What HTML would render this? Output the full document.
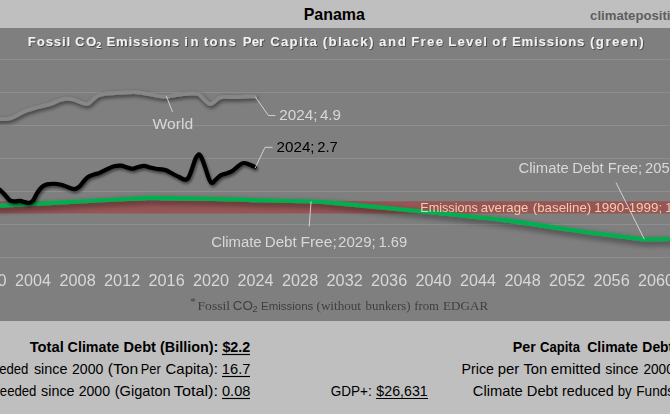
<!DOCTYPE html>
<html><head><meta charset="utf-8"><title>Panama</title>
<style>
html,body{margin:0;padding:0;background:#bfbfbf;overflow:hidden}
body{width:670px;height:414px;font-family:"Liberation Sans",sans-serif}
svg{display:block;font-family:"Liberation Sans",sans-serif}
text{white-space:pre}
</style></head><body>
<svg width="670" height="414" viewBox="0 0 670 414">
<defs>
<filter id="shK" x="-5%" y="-30%" width="110%" height="170%"><feGaussianBlur in="SourceAlpha" stdDeviation="1.6"/><feOffset dx="0.8" dy="1.6"/><feComponentTransfer><feFuncA type="linear" slope="0.55"/></feComponentTransfer><feMerge><feMergeNode/><feMergeNode in="SourceGraphic"/></feMerge></filter>
<filter id="shG" x="-5%" y="-40%" width="110%" height="200%"><feGaussianBlur in="SourceAlpha" stdDeviation="3"/><feOffset dx="0.8" dy="3.2"/><feComponentTransfer><feFuncA type="linear" slope="0.58"/></feComponentTransfer><feMerge><feMergeNode/><feMergeNode in="SourceGraphic"/></feMerge></filter>
<filter id="shW" x="-5%" y="-40%" width="110%" height="200%"><feGaussianBlur in="SourceAlpha" stdDeviation="1.9"/><feOffset dx="0.8" dy="2.2"/><feComponentTransfer><feFuncA type="linear" slope="0.62"/></feComponentTransfer><feMerge><feMergeNode/><feMergeNode in="SourceGraphic"/></feMerge></filter>
<filter id="shT" x="-5%" y="-30%" width="110%" height="170%"><feGaussianBlur in="SourceAlpha" stdDeviation="0.7"/><feOffset dx="0.5" dy="0.9"/><feComponentTransfer><feFuncA type="linear" slope="0.4"/></feComponentTransfer><feMerge><feMergeNode/><feMergeNode in="SourceGraphic"/></feMerge></filter>
</defs>
<rect x="0" y="0" width="670" height="414" fill="#bfbfbf"/>
<rect x="0" y="28" width="670" height="293.00" fill="#7f7f7f"/>
<line x1="0" x2="670" y1="59.50" y2="59.50" stroke="#8e8e8e" stroke-width="1"/>
<line x1="0" x2="670" y1="92.50" y2="92.50" stroke="#8e8e8e" stroke-width="1"/>
<line x1="0" x2="670" y1="125.50" y2="125.50" stroke="#8e8e8e" stroke-width="1"/>
<line x1="0" x2="670" y1="158.50" y2="158.50" stroke="#8e8e8e" stroke-width="1"/>
<line x1="0" x2="670" y1="191.50" y2="191.50" stroke="#8e8e8e" stroke-width="1"/>
<line x1="0" x2="670" y1="224.50" y2="224.50" stroke="#8e8e8e" stroke-width="1"/>
<line x1="0" x2="670" y1="257.50" y2="257.50" stroke="#8e8e8e" stroke-width="1"/>
<rect x="0" y="201.2" width="670" height="12.3" fill="#975656"/>
<path d="M-5.00,119.00C-4.17,119.00 -1.83,119.00 0.00,119.00C1.83,119.00 3.92,119.25 6.00,119.00C8.08,118.75 9.33,118.79 12.50,117.50C15.67,116.21 20.83,112.96 25.00,111.25C29.17,109.54 33.33,108.44 37.50,107.25C41.67,106.06 46.25,105.31 50.00,104.10C53.75,102.89 57.00,100.89 60.00,100.00C63.00,99.11 65.50,98.75 68.00,98.75C70.50,98.75 72.33,99.21 75.00,100.00C77.67,100.79 81.83,102.88 84.00,103.50C86.17,104.12 86.67,104.23 88.00,103.75C89.33,103.27 90.33,101.96 92.00,100.60C93.67,99.24 95.83,96.74 98.00,95.60C100.17,94.46 102.17,94.17 105.00,93.75C107.83,93.33 111.67,93.31 115.00,93.10C118.33,92.89 121.83,92.67 125.00,92.50C128.17,92.33 131.00,92.00 134.00,92.10C137.00,92.20 139.83,92.62 143.00,93.10C146.17,93.58 149.83,94.43 153.00,95.00C156.17,95.57 159.50,96.25 162.00,96.50C164.50,96.75 165.33,96.79 168.00,96.50C170.67,96.21 174.67,95.21 178.00,94.75C181.33,94.29 184.83,93.92 188.00,93.75C191.17,93.58 194.83,93.33 197.00,93.75C199.17,94.17 199.50,95.00 201.00,96.25C202.50,97.50 204.42,99.92 206.00,101.25C207.58,102.58 209.00,104.20 210.50,104.20C212.00,104.20 213.42,102.37 215.00,101.25C216.58,100.13 218.17,98.22 220.00,97.50C221.83,96.78 223.33,96.97 226.00,96.90C228.67,96.83 231.67,97.18 236.00,97.10C240.33,97.02 248.83,96.48 252.00,96.40C255.17,96.32 254.50,96.57 255.00,96.60" fill="none" stroke="#878787" stroke-width="3.8" stroke-linecap="round" stroke-linejoin="round" filter="url(#shW)"/>
<path d="M-5.00,206.00C-4.42,205.95 -10.38,206.15 0.00,205.60C10.38,205.05 66.85,202.15 84.00,201.25C101.15,200.35 137.20,198.27 147.00,197.90C156.80,197.53 156.68,197.90 168.00,198.10C179.32,198.30 234.20,199.37 244.00,199.60C253.80,199.83 244.18,199.88 252.00,200.10C259.82,200.32 301.20,201.15 311.00,201.50C320.80,201.85 323.28,201.96 336.00,203.10C348.72,204.24 400.40,209.32 420.00,211.30C439.60,213.28 484.52,217.65 504.00,220.10C523.48,222.55 577.32,230.88 587.00,232.30L644.3,239.4L670,239L676,238.9" fill="none" stroke="#00b050" stroke-width="4.1" stroke-linecap="round" stroke-linejoin="round" filter="url(#shG)"/>
<path d="M-5.00,186.00C-4.17,186.67 -1.67,188.50 0.00,190.00C1.67,191.50 3.33,193.25 5.00,195.00C6.67,196.75 8.33,199.45 10.00,200.50C11.67,201.55 13.33,201.23 15.00,201.30C16.67,201.37 18.33,200.77 20.00,200.90C21.67,201.03 23.50,201.75 25.00,202.10C26.50,202.45 27.67,203.25 29.00,203.00C30.33,202.75 31.58,202.35 33.00,200.60C34.42,198.85 36.00,194.78 37.50,192.50C39.00,190.22 40.42,188.25 42.00,186.90C43.58,185.55 45.00,184.93 47.00,184.40C49.00,183.88 51.67,183.69 54.00,183.75C56.33,183.81 58.75,184.22 61.00,184.75C63.25,185.28 65.33,186.18 67.50,186.90C69.67,187.62 72.08,189.10 74.00,189.10C75.92,189.10 77.33,188.25 79.00,186.90C80.67,185.55 82.50,182.67 84.00,181.00C85.50,179.33 86.33,178.00 88.00,176.90C89.67,175.80 92.17,175.03 94.00,174.40C95.83,173.77 96.92,173.93 99.00,173.10C101.08,172.27 104.00,170.54 106.50,169.40C109.00,168.26 111.58,166.88 114.00,166.25C116.42,165.62 118.92,165.43 121.00,165.60C123.08,165.77 124.67,166.72 126.50,167.25C128.33,167.78 130.17,168.75 132.00,168.75C133.83,168.75 135.50,167.72 137.50,167.25C139.50,166.78 141.92,165.86 144.00,165.90C146.08,165.94 148.00,167.03 150.00,167.50C152.00,167.97 154.00,168.45 156.00,168.75C158.00,169.05 160.33,169.06 162.00,169.30C163.67,169.54 164.67,169.71 166.00,170.20C167.33,170.69 168.50,171.45 170.00,172.25C171.50,173.05 173.33,174.12 175.00,175.00C176.67,175.88 178.33,176.72 180.00,177.50C181.67,178.28 183.58,179.70 185.00,179.70C186.42,179.70 187.33,179.32 188.50,177.50C189.67,175.68 190.83,171.88 192.00,168.75C193.17,165.62 194.33,161.14 195.50,158.75C196.67,156.36 197.92,154.40 199.00,154.40C200.08,154.40 200.90,156.36 202.00,158.75C203.10,161.14 204.43,165.42 205.60,168.75C206.77,172.08 207.93,176.39 209.00,178.75C210.07,181.11 210.83,182.79 212.00,182.90C213.17,183.01 214.50,180.68 216.00,179.40C217.50,178.12 219.08,176.25 221.00,175.20C222.92,174.15 225.50,173.87 227.50,173.10C229.50,172.33 231.25,171.74 233.00,170.60C234.75,169.46 236.23,167.52 238.00,166.25C239.77,164.98 241.60,163.25 243.60,163.00C245.60,162.75 248.10,164.08 250.00,164.75C251.90,165.42 254.17,166.62 255.00,167.00" fill="none" stroke="#000" stroke-width="4.2" stroke-linecap="round" stroke-linejoin="round" filter="url(#shK)"/>
<path d="M166.4,96.3L172.6,112.2" stroke="#d9d9d9" stroke-width="0.9" fill="none"/>
<path d="M255.3,96.8L268.4,115.5L275.4,115.5" stroke="#d9d9d9" stroke-width="0.9" fill="none"/>
<path d="M255,168.3L265,147.3L272.6,147.3" stroke="#d9d9d9" stroke-width="0.9" fill="none"/>
<path d="M311.1,201.3L309.2,226.4" stroke="#d9d9d9" stroke-width="0.9" fill="none"/>
<path d="M616,182.6L644.3,239.2" stroke="#d9d9d9" stroke-width="0.9" fill="none"/>
<text x="303.69" y="19.60" font-size="16.1" font-weight="bold" fill="#000" textLength="61.19" lengthAdjust="spacingAndGlyphs" >Panama</text>
<text x="590.07" y="19.70" font-size="12.5" font-weight="bold" fill="#5e5e5e" textLength="80.48" lengthAdjust="spacingAndGlyphs" >climatepositi</text>
<text x="670.56" y="19.70" font-size="12.5" font-weight="bold" fill="#5e5e5e" textLength="6.95" lengthAdjust="spacingAndGlyphs" >v</text>
<g opacity="0.999">
<text x="27.83" y="46.10" font-size="13.1" font-weight="bold" fill="#f2f2f2" letter-spacing="0.906" filter="url(#shT)">Fossil</text>
<text x="74.98" y="46.10" font-size="13.1" font-weight="bold" fill="#f2f2f2" letter-spacing="1.498" filter="url(#shT)">CO</text>
<text x="106.43" y="46.10" font-size="13.1" font-weight="bold" fill="#f2f2f2" letter-spacing="0.882" filter="url(#shT)">Emissions</text>
<text x="184.28" y="46.10" font-size="13.1" font-weight="bold" fill="#f2f2f2" letter-spacing="2.488" filter="url(#shT)">in</text>
<text x="203.73" y="46.10" font-size="13.1" font-weight="bold" fill="#f2f2f2" letter-spacing="1.486" filter="url(#shT)">tons</text>
<text x="242.73" y="46.10" font-size="13.1" font-weight="bold" fill="#f2f2f2" letter-spacing="0.179" filter="url(#shT)">Per</text>
<text x="270.23" y="46.10" font-size="13.1" font-weight="bold" fill="#f2f2f2" letter-spacing="1.329" filter="url(#shT)">Capita</text>
<text x="322.75" y="46.10" font-size="13.1" font-weight="bold" fill="#f2f2f2" letter-spacing="1.397" filter="url(#shT)">(black)</text>
<text x="379.01" y="46.10" font-size="13.1" font-weight="bold" fill="#f2f2f2" letter-spacing="1.774" filter="url(#shT)">and</text>
<text x="411.13" y="46.10" font-size="13.1" font-weight="bold" fill="#f2f2f2" letter-spacing="1.408" filter="url(#shT)">Free</text>
<text x="448.13" y="46.10" font-size="13.1" font-weight="bold" fill="#f2f2f2" letter-spacing="1.350" filter="url(#shT)">Level</text>
<text x="492.28" y="46.10" font-size="13.1" font-weight="bold" fill="#f2f2f2" letter-spacing="1.823" filter="url(#shT)">of</text>
<text x="512.03" y="46.10" font-size="13.1" font-weight="bold" fill="#f2f2f2" letter-spacing="0.857" filter="url(#shT)">Emissions</text>
<text x="589.95" y="46.10" font-size="13.1" font-weight="bold" fill="#f2f2f2" letter-spacing="1.550" filter="url(#shT)">(green)</text>
<text x="96.30" y="47.60" font-size="9" font-weight="bold" fill="#f2f2f2" letter-spacing="0.000" filter="url(#shT)">2</text>
<text x="152.45" y="129.00" font-size="14" fill="#d9d9d9" textLength="40.75" lengthAdjust="spacingAndGlyphs" >World</text>
<text x="279.34" y="119.70" font-size="14" fill="#d9d9d9" textLength="38.07" lengthAdjust="spacingAndGlyphs" >2024;</text>
<text x="319.90" y="119.70" font-size="14" fill="#d9d9d9" textLength="21.11" lengthAdjust="spacingAndGlyphs" >4.9</text>
<text x="276.54" y="151.50" font-size="14" fill="#000" textLength="38.07" lengthAdjust="spacingAndGlyphs" >2024;</text>
<text x="317.26" y="151.50" font-size="14" fill="#000" textLength="20.47" lengthAdjust="spacingAndGlyphs" >2.7</text>
<text x="211.26" y="246.80" font-size="14" fill="#d9d9d9" textLength="50.38" lengthAdjust="spacingAndGlyphs" >Climate</text>
<text x="264.74" y="246.80" font-size="14" fill="#d9d9d9" textLength="32.00" lengthAdjust="spacingAndGlyphs" >Debt</text>
<text x="300.40" y="246.80" font-size="14" fill="#d9d9d9" textLength="36.41" lengthAdjust="spacingAndGlyphs" >Free;</text>
<text x="338.05" y="246.80" font-size="14" fill="#d9d9d9" textLength="37.75" lengthAdjust="spacingAndGlyphs" >2029;</text>
<text x="378.57" y="246.80" font-size="14" fill="#d9d9d9" textLength="28.61" lengthAdjust="spacingAndGlyphs" >1.69</text>
<text x="518.46" y="172.60" font-size="14" fill="#d9d9d9" textLength="50.38" lengthAdjust="spacingAndGlyphs" >Climate</text>
<text x="572.37" y="172.60" font-size="14" fill="#d9d9d9" textLength="31.27" lengthAdjust="spacingAndGlyphs" >Debt</text>
<text x="607.77" y="172.60" font-size="14" fill="#d9d9d9" textLength="34.36" lengthAdjust="spacingAndGlyphs" >Free;</text>
<text x="645.06" y="172.60" font-size="14" fill="#d9d9d9" textLength="36.79" lengthAdjust="spacingAndGlyphs" >2059;</text>
<text x="420.19" y="212.00" font-size="12.8" fill="#f8cbad" textLength="57.77" lengthAdjust="spacingAndGlyphs" >Emissions</text>
<text x="480.68" y="212.00" font-size="12.8" fill="#f8cbad" textLength="47.65" lengthAdjust="spacingAndGlyphs" >average</text>
<text x="532.76" y="212.00" font-size="12.8" fill="#f8cbad" textLength="58.50" lengthAdjust="spacingAndGlyphs" >(baseline)</text>
<text x="594.37" y="212.00" font-size="12.8" fill="#f8cbad" textLength="67.83" lengthAdjust="spacingAndGlyphs" >1990-1999;</text>
<text x="665.22" y="212.00" font-size="12.8" fill="#f8cbad" textLength="17.79" lengthAdjust="spacingAndGlyphs" >1.5</text>
<text x="-29.41" y="286.40" font-size="15.6" fill="#d9d9d9" textLength="36.02" lengthAdjust="spacingAndGlyphs" >2000</text>
<text x="15.09" y="286.40" font-size="15.6" fill="#d9d9d9" textLength="35.86" lengthAdjust="spacingAndGlyphs" >2004</text>
<text x="59.59" y="286.40" font-size="15.6" fill="#d9d9d9" textLength="36.08" lengthAdjust="spacingAndGlyphs" >2008</text>
<text x="104.09" y="286.40" font-size="15.6" fill="#d9d9d9" textLength="36.19" lengthAdjust="spacingAndGlyphs" >2012</text>
<text x="148.59" y="286.40" font-size="15.6" fill="#d9d9d9" textLength="36.08" lengthAdjust="spacingAndGlyphs" >2016</text>
<text x="193.09" y="286.40" font-size="15.6" fill="#d9d9d9" textLength="36.02" lengthAdjust="spacingAndGlyphs" >2020</text>
<text x="237.59" y="286.40" font-size="15.6" fill="#d9d9d9" textLength="35.86" lengthAdjust="spacingAndGlyphs" >2024</text>
<text x="282.09" y="286.40" font-size="15.6" fill="#d9d9d9" textLength="36.08" lengthAdjust="spacingAndGlyphs" >2028</text>
<text x="326.59" y="286.40" font-size="15.6" fill="#d9d9d9" textLength="36.19" lengthAdjust="spacingAndGlyphs" >2032</text>
<text x="371.09" y="286.40" font-size="15.6" fill="#d9d9d9" textLength="36.08" lengthAdjust="spacingAndGlyphs" >2036</text>
<text x="415.59" y="286.40" font-size="15.6" fill="#d9d9d9" textLength="36.02" lengthAdjust="spacingAndGlyphs" >2040</text>
<text x="460.09" y="286.40" font-size="15.6" fill="#d9d9d9" textLength="35.86" lengthAdjust="spacingAndGlyphs" >2044</text>
<text x="504.59" y="286.40" font-size="15.6" fill="#d9d9d9" textLength="36.08" lengthAdjust="spacingAndGlyphs" >2048</text>
<text x="549.09" y="286.40" font-size="15.6" fill="#d9d9d9" textLength="36.19" lengthAdjust="spacingAndGlyphs" >2052</text>
<text x="593.59" y="286.40" font-size="15.6" fill="#d9d9d9" textLength="36.08" lengthAdjust="spacingAndGlyphs" >2056</text>
<text x="638.09" y="286.40" font-size="15.6" fill="#d9d9d9" textLength="36.02" lengthAdjust="spacingAndGlyphs" >2060</text>
<text x="190.34" y="305.00" font-size="11.4" font-family="Liberation Serif, serif" fill="#404040" textLength="5.58" lengthAdjust="spacingAndGlyphs" >*</text>
<text x="197.59" y="309.80" font-size="12.8" font-family="Liberation Serif, serif" fill="#404040" textLength="32.38" lengthAdjust="spacingAndGlyphs" >Fossil</text>
<text x="232.83" y="309.80" font-size="13.6" fill="#404040" textLength="19.99" lengthAdjust="spacingAndGlyphs" >CO</text>
<text x="252.64" y="311.80" font-size="8.5" fill="#404040" textLength="5.11" lengthAdjust="spacingAndGlyphs" >2</text>
<text x="261.04" y="309.80" font-size="11" fill="#404040" textLength="52.28" lengthAdjust="spacingAndGlyphs" >Emissions</text>
<text x="316.53" y="309.80" font-size="12.2" font-family="Liberation Serif, serif" fill="#404040" textLength="44.44" lengthAdjust="spacingAndGlyphs" >(without</text>
<text x="365.60" y="309.80" font-size="12.2" font-family="Liberation Serif, serif" fill="#404040" textLength="45.05" lengthAdjust="spacingAndGlyphs" >bunkers)</text>
<text x="414.22" y="309.80" font-size="12.2" font-family="Liberation Serif, serif" fill="#404040" textLength="24.76" lengthAdjust="spacingAndGlyphs" >from</text>
<text x="443.11" y="309.80" font-size="12.2" font-family="Liberation Serif, serif" fill="#404040" textLength="45.11" lengthAdjust="spacingAndGlyphs" >EDGAR</text>
</g>
<text x="29.65" y="352.00" font-size="13.9" font-weight="bold" fill="#000" textLength="34.09" lengthAdjust="spacingAndGlyphs" >Total</text>
<text x="67.63" y="352.00" font-size="13.9" font-weight="bold" fill="#000" textLength="51.53" lengthAdjust="spacingAndGlyphs" >Climate</text>
<text x="123.53" y="352.00" font-size="13.9" font-weight="bold" fill="#000" textLength="32.45" lengthAdjust="spacingAndGlyphs" >Debt</text>
<text x="160.08" y="352.00" font-size="13.9" font-weight="bold" fill="#000" textLength="58.32" lengthAdjust="spacingAndGlyphs" >(Billion):</text>
<text x="222.41" y="352.00" font-size="13.9" font-weight="bold" fill="#000" textLength="27.86" lengthAdjust="spacingAndGlyphs" >$2.2</text>
<text x="-15.48" y="374.00" font-size="13.9" fill="#000" textLength="43.91" lengthAdjust="spacingAndGlyphs" >needed</text>
<text x="33.92" y="374.00" font-size="13.9" fill="#000" textLength="33.58" lengthAdjust="spacingAndGlyphs" >since</text>
<text x="72.00" y="374.00" font-size="13.9" fill="#000" textLength="31.34" lengthAdjust="spacingAndGlyphs" >2000</text>
<text x="107.71" y="374.00" font-size="13.9" fill="#000" textLength="30.41" lengthAdjust="spacingAndGlyphs" >(Ton</text>
<text x="140.73" y="374.00" font-size="13.9" fill="#000" textLength="19.98" lengthAdjust="spacingAndGlyphs" >Per</text>
<text x="165.55" y="374.00" font-size="13.9" fill="#000" textLength="52.31" lengthAdjust="spacingAndGlyphs" >Capita):</text>
<text x="221.88" y="374.00" font-size="13.9" fill="#000" textLength="28.55" lengthAdjust="spacingAndGlyphs" >16.7</text>
<text x="-7.48" y="396.00" font-size="13.9" fill="#000" textLength="43.91" lengthAdjust="spacingAndGlyphs" >needed</text>
<text x="41.12" y="396.00" font-size="13.9" fill="#000" textLength="33.47" lengthAdjust="spacingAndGlyphs" >since</text>
<text x="78.70" y="396.00" font-size="13.9" fill="#000" textLength="31.34" lengthAdjust="spacingAndGlyphs" >2000</text>
<text x="114.78" y="396.00" font-size="13.9" fill="#000" textLength="55.88" lengthAdjust="spacingAndGlyphs" >(Gigaton</text>
<text x="173.82" y="396.00" font-size="13.9" fill="#000" textLength="44.13" lengthAdjust="spacingAndGlyphs" >Total):</text>
<text x="222.02" y="396.00" font-size="13.9" fill="#000" textLength="28.31" lengthAdjust="spacingAndGlyphs" >0.08</text>
<text x="330.72" y="396.00" font-size="13.9" fill="#000" textLength="41.03" lengthAdjust="spacingAndGlyphs" >GDP+:</text>
<text x="376.36" y="396.00" font-size="13.9" fill="#000" textLength="51.32" lengthAdjust="spacingAndGlyphs" >$26,631</text>
<text x="512.75" y="352.00" font-size="13.9" font-weight="bold" fill="#000" textLength="22.97" lengthAdjust="spacingAndGlyphs" >Per</text>
<text x="539.98" y="352.00" font-size="13.9" font-weight="bold" fill="#000" textLength="39.93" lengthAdjust="spacingAndGlyphs" >Capita</text>
<text x="587.24" y="352.00" font-size="13.9" font-weight="bold" fill="#000" textLength="50.61" lengthAdjust="spacingAndGlyphs" >Climate</text>
<text x="642.37" y="352.00" font-size="13.9" font-weight="bold" fill="#000" textLength="30.89" lengthAdjust="spacingAndGlyphs" >Debt</text>
<text x="461.52" y="374.00" font-size="13.9" fill="#000" textLength="32.38" lengthAdjust="spacingAndGlyphs" >Price</text>
<text x="497.76" y="374.00" font-size="13.9" fill="#000" textLength="21.47" lengthAdjust="spacingAndGlyphs" >per</text>
<text x="523.46" y="374.00" font-size="13.9" fill="#000" textLength="23.81" lengthAdjust="spacingAndGlyphs" >Ton</text>
<text x="550.74" y="374.00" font-size="13.9" fill="#000" textLength="50.02" lengthAdjust="spacingAndGlyphs" >emitted</text>
<text x="605.32" y="374.00" font-size="13.9" fill="#000" textLength="33.16" lengthAdjust="spacingAndGlyphs" >since</text>
<text x="643.42" y="374.00" font-size="13.9" fill="#000" textLength="30.30" lengthAdjust="spacingAndGlyphs" >2000</text>
<text x="472.86" y="396.00" font-size="13.9" fill="#000" textLength="49.87" lengthAdjust="spacingAndGlyphs" >Climate</text>
<text x="526.77" y="396.00" font-size="13.9" fill="#000" textLength="31.06" lengthAdjust="spacingAndGlyphs" >Debt</text>
<text x="562.05" y="396.00" font-size="13.9" fill="#000" textLength="51.66" lengthAdjust="spacingAndGlyphs" >reduced</text>
<text x="617.66" y="396.00" font-size="13.9" fill="#000" textLength="13.98" lengthAdjust="spacingAndGlyphs" >by</text>
<text x="636.26" y="396.00" font-size="13.9" fill="#000" textLength="37.86" lengthAdjust="spacingAndGlyphs" >Funds</text>
<line x1="222" x2="250" y1="354.5" y2="354.5" stroke="#000" stroke-width="1.15"/>
<line x1="222" x2="250" y1="376.5" y2="376.5" stroke="#000" stroke-width="1.15"/>
<line x1="222" x2="250" y1="398.5" y2="398.5" stroke="#000" stroke-width="1.15"/>
<line x1="376" x2="428" y1="398.5" y2="398.5" stroke="#000" stroke-width="1.15"/>
</svg>
</body></html>
